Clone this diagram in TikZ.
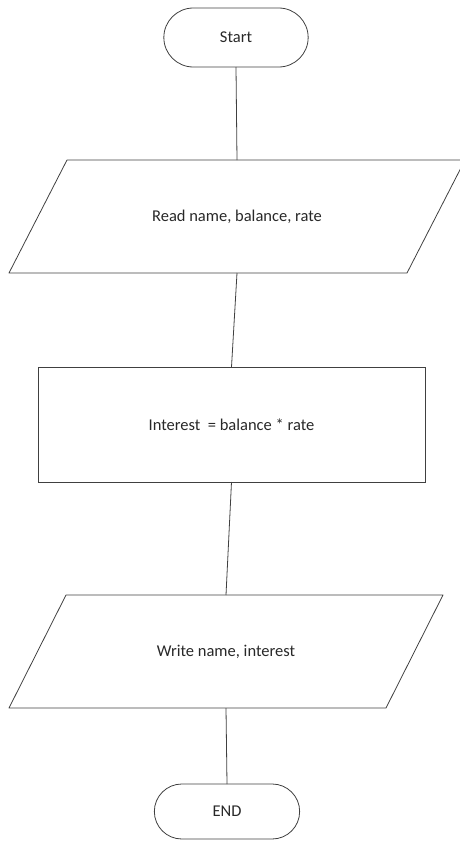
\documentclass[tikz,border=0pt]{standalone}
\usepackage{fontspec}
\setmainfont{Carlito}
\usetikzlibrary{
	shapes.misc
}
\definecolor{LineGray}{RGB}{64,64,64}
\definecolor{TextGray}{RGB}{40,40,40}

\begin{document}
\begin{tikzpicture}[x=1pt, y=-1pt,
	every node/.style={font=\fontsize{16.5}{19}\selectfont, text=TextGray, outer sep=0pt},
	terminal/.style={draw=LineGray, line width=0.8pt, rounded rectangle},
	iobox/.style={rectangle, minimum height=113pt},
	procbox/.style={draw=LineGray, line width=0.8pt, rectangle},
	flow/.style={draw=LineGray, line width=0.8pt, line join=round}]
		\clip (0,0) rectangle (460,841);
		\useasboundingbox (0,0) rectangle (460,841);
		
		% 起止框
		\node[terminal, minimum width=151pt, minimum height=59pt] (start) at (236,37.5) {Start};
		\node[terminal, minimum width=152pt, minimum height=55pt] (stop) at (227,811.5) {END};
		
		% 输入输出框 (平行四边形)
		\node[iobox, minimum width=456pt] (read) at (237,216.5) {Read name, balance, rate};
		\node[iobox, minimum width=434pt] (write) at (226,651.5) {Write name, interest};
		\draw[flow] ([xshift=58pt]read.north west) -- (read.north east)
			-- ([xshift=-58pt]read.south east) -- (read.south west) -- cycle;
		\draw[flow] ([xshift=57pt]write.north west) -- (write.north east)
			-- ([xshift=-57pt]write.south east) -- (write.south west) -- cycle;
		
		% 处理框
		\node[procbox, minimum width=387pt, minimum height=115pt] (calc) at (231.5,424.5) {Interest\ \ = balance * rate};
		
		% 连线
		\draw[flow] (start.south) -- (read.north);
		\draw[flow] (read.south) -- (calc.north);
		\draw[flow] (calc.south) -- (write.north);
		\draw[flow] (write.south) -- (stop.north);
	\end{tikzpicture}
\end{document}
